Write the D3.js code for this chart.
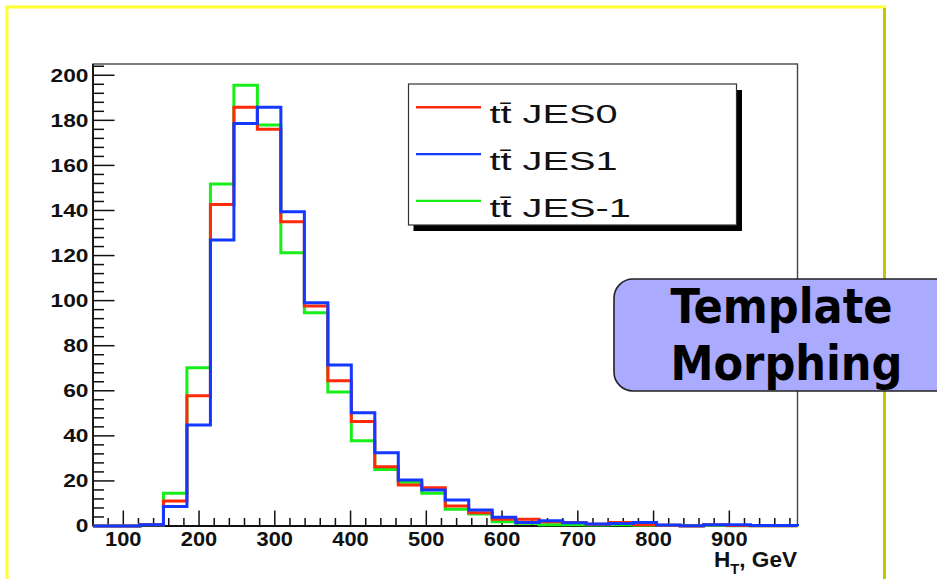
<!DOCTYPE html>
<html>
<head>
<meta charset="utf-8">
<script src="https://cdn.jsdelivr.net/npm/d3@7"></script>
<style>
  html, body { margin: 0; padding: 0; background: #ffffff; }
  svg { display: block; }
</style>
</head>
<body>
<script>
// H_T distributions for ttbar under three jet-energy-scale settings (30 bins)
const binEdges = [60, 91, 122, 153, 184, 215, 246, 277, 308, 339, 370, 401, 432, 463, 494,
                  525, 556, 587, 618, 649, 680, 711, 742, 773, 804, 835, 866, 897, 928, 959, 990];
const jes0  = [0, 0, 0.6, 11.1, 57.8, 142.7, 185.8, 176.0, 135.0, 97.6, 64.5, 46.4, 26.3, 18.2, 17.0,
               8.9, 5.9, 3.0, 3.0, 1.9, 1.5, 0.8, 1.6, 0.5, 0.3, 0.0, 0.5, 0.2, 0.1, 0.1];
const jes1  = [0, 0, 0.6, 8.6, 44.8, 126.9, 178.6, 185.8, 139.4, 99.1, 71.4, 50.3, 32.5, 20.4, 16.0,
               11.5, 7.1, 3.9, 1.5, 2.3, 1.4, 0.9, 1.1, 1.5, 0.4, 0.1, 0.5, 0.5, 0.2, 0.2];
const jesM1 = [0, 0, 0.6, 14.5, 70.2, 151.7, 195.6, 177.9, 121.3, 94.6, 59.5, 37.8, 25.1, 19.4, 14.5,
               7.4, 5.3, 1.9, 1.2, 0.6, 0.5, 0.4, 0.5, 0.3, 0.2, 0.1, 0.2, 0.1, 0.1, 0.1];

const seriesNames = ["JES0", "JES1", "JES-1"];
const xTickLabels = [100, 200, 300, 400, 500, 600, 700, 800, 900];
const yTickLabels = [0, 20, 40, 60, 80, 100, 120, 140, 160, 180, 200];
const xAxisTitle = ["H", "T", ", GeV"];
const boxLines = ["Template", "Morphing"];

const W = 937, H = 579;
const svg = d3.select("body").append("svg").attr("width", W).attr("height", H);

// plot frame
const L = 93, R = 797.5, T = 64, B = 526;
const x = d3.scaleLinear().domain([60, 990]).range([L, R]);
const y = d3.scaleLinear().domain([0, 205]).range([B, T]);

// slide border (bevelled yellow)
svg.append("line").attr("x1", 5).attr("x2", 886).attr("y1", 7).attr("y2", 7)
  .attr("stroke", "#ffff33").attr("stroke-width", 3);
svg.append("line").attr("x1", 7).attr("x2", 7).attr("y1", 6).attr("y2", H + 2)
  .attr("stroke", "#ffff33").attr("stroke-width", 3);
svg.append("line").attr("x1", 884.5).attr("x2", 884.5).attr("y1", 8).attr("y2", H + 2)
  .attr("stroke", "#c6c600").attr("stroke-width", 3);

// frame
svg.append("rect").attr("x", L).attr("y", T).attr("width", R - L).attr("height", B - T)
  .attr("fill", "none").attr("stroke", "#444").attr("stroke-width", 1.4);

// y ticks (inside, pointing right)
const yMinor = d3.range(0, 205, 4);
svg.append("g").selectAll("line").data(yMinor).join("line")
  .attr("x1", L).attr("x2", d => L + (d % 20 === 0 ? 21.5 : 11))
  .attr("y1", d => y(d)).attr("y2", d => y(d))
  .attr("stroke", "#111").attr("stroke-width", 1.5);
svg.append("line").attr("x1", L).attr("x2", L).attr("y1", T).attr("y2", B)
  .attr("stroke", "#111").attr("stroke-width", 1.8);

// x ticks (inside, pointing up)
const xMinor = d3.range(80, 990, 20);
svg.append("g").selectAll("line").data(xMinor).join("line")
  .attr("x1", d => x(d)).attr("x2", d => x(d))
  .attr("y1", B).attr("y2", d => B - (d % 100 === 0 ? 15.5 : 8))
  .attr("stroke", "#111").attr("stroke-width", 1.5);
svg.append("line").attr("x1", L).attr("x2", R).attr("y1", B).attr("y2", B)
  .attr("stroke", "#111").attr("stroke-width", 1.8);

// tick labels
svg.append("g").selectAll("text").data(yTickLabels).join("text")
  .attr("transform", d => `translate(88.5,${y(d) + 6.3}) scale(1.3,1)`)
  .attr("text-anchor", "end")
  .attr("font-family", "Liberation Sans, Arial, sans-serif")
  .attr("font-weight", "bold").attr("font-size", 17.5).attr("fill", "#111")
  .text(d => d);

svg.append("g").selectAll("text").data(xTickLabels).join("text")
  .attr("transform", d => `translate(${x(d)},545.5) scale(1.12,1)`)
  .attr("text-anchor", "middle")
  .attr("font-family", "Liberation Sans, Arial, sans-serif")
  .attr("font-weight", "bold").attr("font-size", 19.5).attr("fill", "#111")
  .text(d => d);

// axis title H_T, GeV (right aligned at the frame edge)
const title = svg.append("text")
  .attr("transform", "translate(797,567.3) scale(1.05,1)")
  .attr("text-anchor", "end")
  .attr("font-family", "Liberation Sans, Arial, sans-serif")
  .attr("font-weight", "bold").attr("font-size", 21.5).attr("fill", "#111");
title.append("tspan").text(xAxisTitle[0]);
title.append("tspan").attr("font-size", 14).attr("dy", 7).text(xAxisTitle[1]);
title.append("tspan").attr("dy", -7).text(xAxisTitle[2]);

// histograms as step outlines
const colors = { "JES0": "#ff2a0a", "JES1": "#1438ff", "JES-1": "#18ee18" };
const values = { "JES0": jes0, "JES1": jes1, "JES-1": jesM1 };
const line = d3.line().x(d => x(d[0])).y(d => y(d[1]));
function outline(vals) {
  const pts = [[binEdges[0], 0]];
  vals.forEach((v, i) => { pts.push([binEdges[i], v]); pts.push([binEdges[i + 1], v]); });
  pts.push([binEdges[binEdges.length - 1], 0]);
  return pts;
}
["JES-1", "JES0", "JES1"].forEach(name => {
  svg.append("path").attr("d", line(outline(values[name])))
    .attr("fill", "none").attr("stroke", colors[name]).attr("stroke-width", 3)
    .attr("stroke-linejoin", "miter");
});

// legend
const lg = svg.append("g");
lg.append("rect").attr("x", 413.5).attr("y", 90).attr("width", 328.5).attr("height", 141).attr("fill", "#000");
lg.append("rect").attr("x", 408.5).attr("y", 84).attr("width", 328).attr("height", 141)
  .attr("fill", "#fff").attr("stroke", "#333").attr("stroke-width", 1.2);
seriesNames.forEach((name, i) => {
  const ly = 107.3 + i * 46.8;
  lg.append("line").attr("x1", 416).attr("x2", 481).attr("y1", ly).attr("y2", ly)
    .attr("stroke", colors[name]).attr("stroke-width", 2.4);
  lg.append("text")
    .attr("transform", `translate(489.5,${ly + 16}) scale(1.5,1)`)
    .attr("font-family", "Liberation Sans, Arial, sans-serif")
    .attr("font-size", 26.5).attr("fill", "#111")
    .text("tt\u0304 " + name);
});

// overlay caption box
const bx = svg.append("g");
bx.append("rect").attr("x", 614).attr("y", 279).attr("width", 360).attr("height", 112)
  .attr("rx", 19).attr("ry", 19)
  .attr("fill", "#aaaaff").attr("stroke", "#222").attr("stroke-width", 1.6);
boxLines.forEach((t, i) => {
  bx.append("text")
    .attr("x", i === 0 ? 781.5 : 786.5).attr("y", i === 0 ? 323 : 380)
    .attr("text-anchor", "middle")
    .attr("font-family", "DejaVu Sans, sans-serif")
    .attr("font-stretch", "condensed")
    .attr("font-weight", "bold").attr("font-size", 48).attr("fill", "#000")
    .text(t);
});
</script>
</body>
</html>
